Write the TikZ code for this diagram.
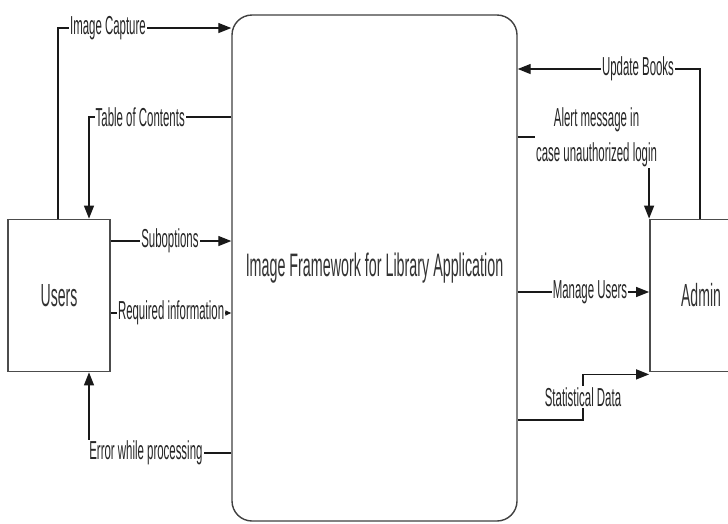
\documentclass[tikz,border=0pt]{standalone}
\usepackage{fontspec}
\setmainfont[FakeStretch=0.44]{Liberation Sans}
\usepackage{tikz}
\usetikzlibrary{arrows.meta}
\tikzset{
    process-box/.style = {draw=black!75, line width=1.4pt, rectangle, rounded corners=20pt, minimum width=285pt, minimum height=506pt, font=\fontsize{32.5}{34}\selectfont, text=black!80},
    entity-box/.style = {draw=black!70, line width=1.8pt, rectangle, minimum width=102pt, minimum height=152pt, font=\fontsize{32}{34}\selectfont, text=black!80},
    flow/.style = {draw=black!90, line width=1.3pt},
    flow-arrow/.style = {flow, -{Triangle[length=13pt,width=10pt]}},
    flow-label/.style = {fill=white, inner sep=1pt, font=\fontsize{26}{27}\selectfont, text=black!85},
}

\begin{document}
\begin{tikzpicture}[x=1pt, y=-1pt]
\useasboundingbox (0,0) rectangle (728,523);
\fill [white] (0,0) rectangle (728,523);
\clip (0,0) rectangle (728,523);
\node [process-box] (app) at (374.5,268) {Image Framework for Library Application};
\node [entity-box] (users) at (59,295.5) {Users};
\node [entity-box] (admin) at (701,295.5) {Admin};

\draw [flow-arrow] ([xshift=-1pt]users.north) |- (app.west |- 0,28) node [flow-label, pos=0.644] (capture) {Image Capture};
\draw [flow-arrow] (app.west |- 0,117) -| ([xshift=30pt]users.north) node [flow-label, pos=0.32] (contents) {Table of Contents};
\draw [flow-arrow] (users.east |- 0,241) -- (app.west |- 0,241) node [flow-label, pos=0.49] (subopts) {Suboptions};
\draw [flow, -{Triangle[length=6pt,width=5pt]}] (users.east |- 0,313) -- (app.west |- 0,313) node [flow-label, midway] (reqinfo) {Required information};
\draw [flow-arrow] (app.west |- 0,453) -| ([xshift=30pt]users.south) node [flow-label, pos=0.3] (error) {Error while processing};

\draw [flow-arrow] ([xshift=-1pt]admin.north) |- (app.east |- 0,69) node [flow-label, pos=0.67] (update) {Update Books};
\draw [flow-arrow] (app.east |- 0,137) -| (admin.north west) node [flow-label, pos=0.3, align=center, font=\fontsize{26}{35}\selectfont] (alert) {Alert message in\\case unauthorized login};
\draw [flow-arrow] (app.east |- 0,292) -- (admin.west |- 0,292) node [flow-label, pos=0.55] (manage) {Manage Users};
\draw [flow-arrow] (app.east |- 0,420) -| (583,397) node [flow-label] (stats) {Statistical Data} |- ([yshift=-2pt]admin.south west);
\end{tikzpicture}
\end{document}
